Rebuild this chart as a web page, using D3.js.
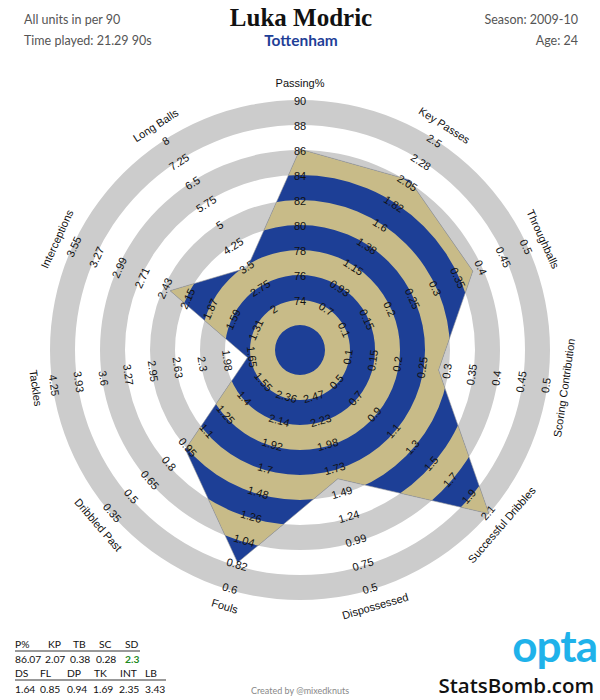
<!DOCTYPE html>
<html>
<head>
<meta charset="utf-8">
<script src="https://cdn.jsdelivr.net/npm/d3@7"></script>
<style>
  html, body { margin: 0; padding: 0; background: #fff; }
  svg { display: block; }
</style>
</head>
<body>
<svg id="chart" width="600" height="700"></svg>
<script>
// ---- Data ----
const playerName = "Luka Modric";
const teamName = "Tottenham";
const season = "Season: 2009-10";
const age = "Age: 24";
const unitsNote = "All units in per 90";
const timePlayed = "Time played: 21.29 90s";

const axisNames = ["Passing%", "Key Passes", "Throughballs", "Scoring Contribution",
  "Successful Dribbles", "Dispossessed", "Fouls", "Dribbled Past", "Tackles",
  "Interceptions", "Long Balls"];
const shortNames = ["P%", "KP", "TB", "SC", "SD", "DS", "FL", "DP", "TK", "INT", "LB"];
const values = [86.07, 2.07, 0.38, 0.28, 2.3, 1.64, 0.85, 0.94, 1.69, 2.35, 3.43];
const valueLabels = ["86.07", "2.07", "0.38", "0.28", "2.3", "1.64", "0.85", "0.94", "1.69", "2.35", "3.43"];
const overScale = [false, false, false, false, true, false, false, false, false, false, false];

const tickPassing = ["74", "76", "78", "80", "82", "84", "86", "88", "90"];
const tickKeyPasses = ["0.7", "0.93", "1.15", "1.38", "1.6", "1.82", "2.05", "2.28", "2.5"];
const tickThroughballs = ["0.1", "0.15", "0.2", "0.25", "0.3", "0.35", "0.4", "0.45", "0.5"];
const tickScoring = ["0.1", "0.15", "0.2", "0.25", "0.3", "0.35", "0.4", "0.45", "0.5"];
const tickDribbles = ["0.5", "0.7", "0.9", "1.1", "1.3", "1.5", "1.7", "1.9", "2.1"];
const tickDispossessed = ["2.47", "2.23", "1.98", "1.73", "1.49", "1.24", "0.99", "0.75", "0.5"];
const tickFouls = ["2.36", "2.14", "1.92", "1.7", "1.48", "1.26", "1.04", "0.82", "0.6"];
const tickDribbledPast = ["1.55", "1.4", "1.25", "1.1", "0.95", "0.8", "0.65", "0.5", "0.35"];
const tickTackles = ["1.65", "1.98", "2.3", "2.63", "2.95", "3.27", "3.6", "3.93", "4.25"];
const tickInterceptions = ["1.31", "1.59", "1.87", "2.15", "2.43", "2.71", "2.99", "3.27", "3.55"];
const tickLongBalls = ["2", "2.75", "3.5", "4.25", "5", "5.75", "6.5", "7.25", "8"];
const tickLists = [tickPassing, tickKeyPasses, tickThroughballs, tickScoring, tickDribbles,
  tickDispossessed, tickFouls, tickDribbledPast, tickTackles, tickInterceptions, tickLongBalls];

// ---- Layout ----
const svg = d3.select("#chart");
const cx = 300, cy = 350;
const R = 250;
const n = axisNames.length;
const step = 2 * Math.PI / n;
const colBlue = "#1d3f96";
const colKhaki = "#c8bb88";
const colGray = "#cccccc";

const rScale = d3.scaleLinear().domain([0, 10]).range([0, R]);
const axisScales = tickLists.map(t =>
  d3.scaleLinear().domain([+t[0], +t[t.length - 1]]).range([rScale(2), rScale(10)]));

const g = svg.append("g").attr("transform", `translate(${cx},${cy})`);

// background gray rings
const ringIdx = [1, 3, 5, 7, 9];
const arc = d3.arc().startAngle(0).endAngle(2 * Math.PI);
g.selectAll("path.bg").data(ringIdx).enter().append("path")
  .attr("class", "bg")
  .attr("d", k => arc({innerRadius: rScale(k), outerRadius: rScale(k + 1)}))
  .attr("fill", colGray);

// polygon
const radial = d3.lineRadial()
  .angle((d, i) => i * step)
  .radius((d, i) => Math.min(R, Math.max(0, axisScales[i](d))))
  .curve(d3.curveLinearClosed);
const polyPath = radial(values);

svg.append("defs").append("clipPath").attr("id", "polyClip")
  .append("path").attr("d", polyPath);

const clipped = g.append("g").attr("clip-path", "url(#polyClip)");
clipped.append("circle").attr("r", R).attr("fill", colBlue);
clipped.selectAll("path.kh").data(ringIdx).enter().append("path")
  .attr("class", "kh")
  .attr("d", k => arc({innerRadius: rScale(k), outerRadius: rScale(k + 1)}))
  .attr("fill", colKhaki);

g.append("path").attr("d", polyPath)
  .attr("fill", "none").attr("stroke", "#9a9a9a").attr("stroke-width", 0.6);

// tick labels & axis labels
function rot(a) {
  let deg = a * 180 / Math.PI;
  if (deg > 90 && deg < 270) deg -= 180;
  return deg;
}
axisNames.forEach((name, i) => {
  const a = i * step;
  const ticks = tickLists[i];
  ticks.forEach((t, j) => {
    const r = rScale(j + 2) - 1.5;
    g.append("text")
      .attr("transform", `translate(${r * Math.sin(a)},${-r * Math.cos(a)}) rotate(${rot(a)})`)
      .attr("text-anchor", "middle")
      .attr("dy", "0.35em")
      .attr("font-family", "Liberation Sans, Arial, sans-serif")
      .attr("font-size", 11)
      .attr("fill", "#111")
      .text(t);
  });
  const ra = 267;
  g.append("text")
    .attr("transform", `translate(${ra * Math.sin(a)},${-ra * Math.cos(a)}) rotate(${rot(a)})`)
    .attr("text-anchor", "middle")
    .attr("dy", "0.35em")
    .attr("font-family", "Liberation Sans, Arial, sans-serif")
    .attr("font-size", 11)
    .attr("fill", "#111")
    .text(name);
});

// ---- Header ----
svg.append("text").attr("x", 301).attr("y", 26).attr("text-anchor", "middle")
  .attr("font-family", "Liberation Serif, DejaVu Serif, serif").attr("font-weight", "bold")
  .attr("font-size", 25).attr("fill", "#111").text(playerName);
svg.append("text").attr("x", 301).attr("y", 46).attr("text-anchor", "middle")
  .attr("font-family", "Lato, Open Sans, sans-serif").attr("font-weight", "bold")
  .attr("font-size", 15.5).attr("fill", "#1f3f97").text(teamName);
const hdrFont = "Lato, Open Sans, sans-serif";
svg.append("text").attr("x", 24).attr("y", 24).attr("font-family", hdrFont)
  .attr("font-size", 12.5).attr("fill", "#555").text(unitsNote);
svg.append("text").attr("x", 24).attr("y", 45).attr("font-family", hdrFont)
  .attr("font-size", 12.5).attr("fill", "#555").text(timePlayed);
svg.append("text").attr("x", 578).attr("y", 24).attr("text-anchor", "end").attr("font-family", hdrFont)
  .attr("font-size", 12.5).attr("fill", "#555").text(season);
svg.append("text").attr("x", 578).attr("y", 45).attr("text-anchor", "end").attr("font-family", hdrFont)
  .attr("font-size", 12.5).attr("fill", "#555").text(age);

// ---- Bottom-left table ----
const tblFont = "Lato, Open Sans, sans-serif";
const row1X = [15, 48, 73, 99, 125];
const row1VX = [15, 45, 70, 96, 125];
const row2X = [15, 40, 67, 94, 120, 145];
const row2VX = [15, 40, 67, 93, 119, 145];
const tbl = svg.append("g").attr("font-family", tblFont).attr("font-size", 10.3).attr("fill", "#111");
shortNames.slice(0, 5).forEach((s, i) => tbl.append("text").attr("x", row1X[i]).attr("y", 648).text(s));
valueLabels.slice(0, 5).forEach((s, i) => tbl.append("text").attr("x", row1VX[i]).attr("y", 663)
  .attr("fill", overScale[i] ? "#1e8a1e" : "#111").attr("font-weight", overScale[i] ? "bold" : "normal").text(s));
shortNames.slice(5).forEach((s, i) => tbl.append("text").attr("x", row2X[i]).attr("y", 677).text(s));
valueLabels.slice(5).forEach((s, i) => tbl.append("text").attr("x", row2VX[i]).attr("y", 693)
  .attr("fill", overScale[i + 5] ? "#1e8a1e" : "#111").text(s));
tbl.append("line").attr("x1", 15).attr("x2", 140).attr("y1", 651).attr("y2", 651)
  .attr("stroke", "#777").attr("stroke-width", 1.6);
tbl.append("line").attr("x1", 15).attr("x2", 166).attr("y1", 680).attr("y2", 680)
  .attr("stroke", "#777").attr("stroke-width", 1.6);

// ---- Footer ----
svg.append("text").attr("x", 300).attr("y", 694).attr("text-anchor", "middle")
  .attr("font-family", "Lato, Open Sans, sans-serif").attr("font-size", 9).attr("fill", "#888")
  .text("Created by @mixedknuts");
svg.append("text").attr("x", 597).attr("y", 662).attr("text-anchor", "end")
  .attr("font-family", "Lato, Open Sans, sans-serif").attr("font-weight", "bold")
  .attr("font-size", 44).attr("fill", "#1fb2ea").attr("letter-spacing", -1).text("opta");
svg.append("text").attr("x", 594).attr("y", 693).attr("text-anchor", "end")
  .attr("font-family", "Open Sans, Lato, sans-serif").attr("font-weight", "600")
  .attr("font-size", 20.5).attr("fill", "#111").text("StatsBomb.com");
</script>
</body>
</html>
